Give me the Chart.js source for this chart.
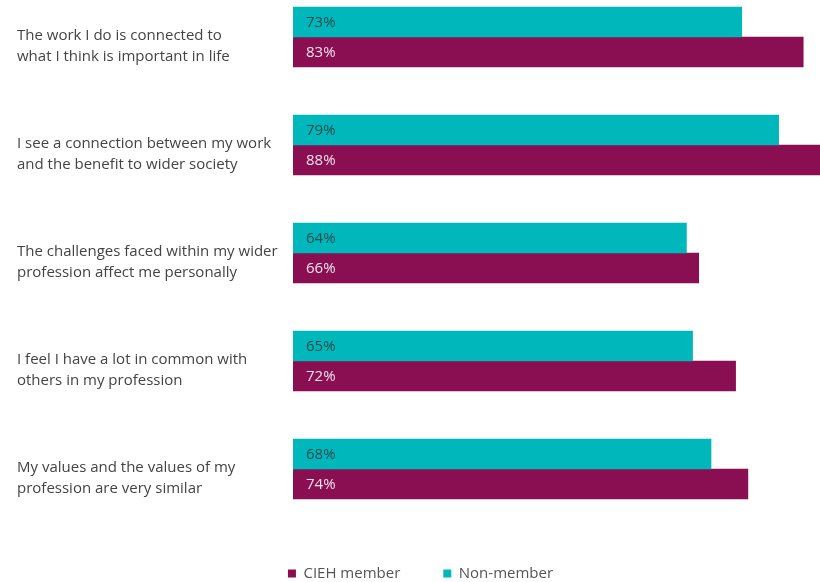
<!DOCTYPE html>
<html>
<head>
<meta charset="utf-8">
<script src="https://cdn.jsdelivr.net/npm/chart.js@4"></script>
<style>
  html, body { margin: 0; padding: 0; background: #fff; }
  #frame { position: relative; width: 820px; height: 582px; overflow: hidden; }
  #holder { position: absolute; left: 0; top: -17px; width: 820px; height: 608px; }
</style>
</head>
<body>
<div id="frame"><div id="holder"><canvas id="chart" width="820" height="608"></canvas></div></div>
<script>
// Chart data
const statements = [
  ['The work I do is connected to', 'what I think is important in life'],
  ['I see a connection between my work', 'and the benefit to wider society'],
  ['The challenges faced within my wider', 'profession affect me personally'],
  ['I feel I have a lot in common with', 'others in my profession'],
  ['My values and the values of my', 'profession are very similar']
];
const nonMember = [73, 79, 64, 65, 68];
const ciehMember = [83, 88, 66, 72, 74];

const TEAL = '#00b7bb';
const PURPLE = '#8a0e52';

// draws the "73%" style labels just inside the start of each bar
const barLabels = {
  id: 'barLabels',
  afterDatasetsDraw(chart) {
    const ctx = chart.ctx;
    ctx.save();
    ctx.font = '15px "Open Sans", sans-serif';
    ctx.textAlign = 'left';
    ctx.textBaseline = 'middle';
    chart.data.datasets.forEach(function(ds, i) {
      const meta = chart.getDatasetMeta(i);
      meta.data.forEach(function(bar, j) {
        ctx.fillStyle = ds.labelColor;
        ctx.fillText(ds.data[j] + '%', bar.base + 13, bar.y + 1);
      });
    });
    ctx.restore();
  }
};

// nudge the legend a little to the right, like the original
const legendShift = {
  id: 'legendShift',
  afterLayout(chart) {
    chart.legend.left += 2;
    chart.legend.right += 2;
  }
};

new Chart(document.getElementById('chart'), {
  type: 'bar',
  data: {
    labels: statements,
    datasets: [
      { label: 'Non-member', data: nonMember, backgroundColor: TEAL, labelColor: '#1f4a4b', barThickness: 30 },
      { label: 'CIEH member', data: ciehMember, backgroundColor: PURPLE, labelColor: '#f3e4ec', barThickness: 30 }
    ]
  },
  options: {
    indexAxis: 'y',
    responsive: false,
    animation: false,
    layout: { padding: { left: 17, right: 0, top: 0, bottom: 0 } },
    scales: {
      x: { display: false, min: 0, max: 85.73 },
      y: {
        grid: { display: false, drawTicks: false },
        border: { display: false },
        afterFit(axis) {
          axis.width = 276;
          axis.paddingTop = 0;
          axis.paddingBottom = 0;
        },
        ticks: {
          crossAlign: 'far',
          labelOffset: 9,
          color: '#444',
          font: { family: '"Open Sans", sans-serif', size: 15, lineHeight: '21px' }
        }
      }
    },
    plugins: {
      tooltip: { enabled: false },
      legend: {
        position: 'bottom',
        reverse: true,
        labels: {
          boxWidth: 8,
          boxHeight: 8,
          padding: 43,
          color: '#555',
          font: { family: '"Open Sans", sans-serif', size: 15 }
        }
      }
    }
  },
  plugins: [barLabels, legendShift]
});
</script>
</body>
</html>
